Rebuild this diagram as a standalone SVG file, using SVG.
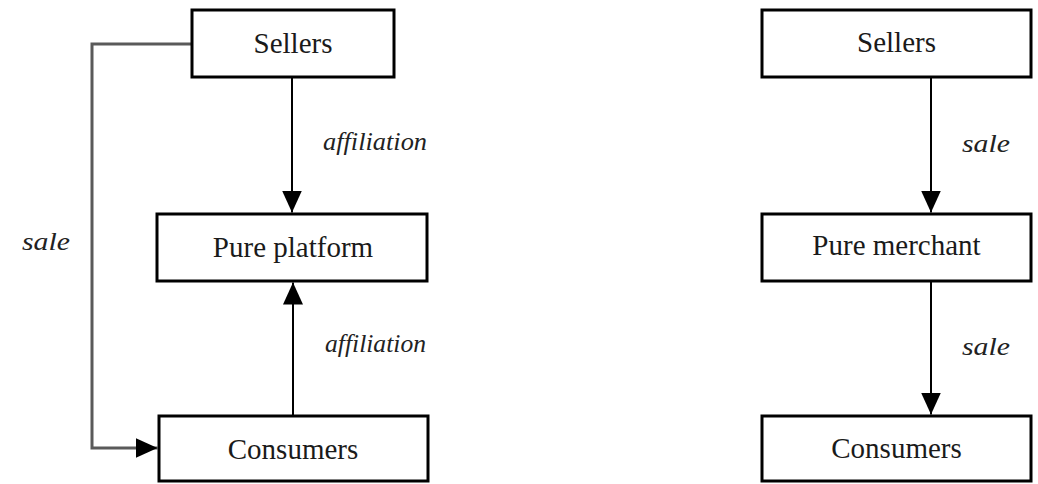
<svg xmlns="http://www.w3.org/2000/svg" width="1038" height="484" viewBox="0 0 1038 484">
  <style>
    .box { fill: #ffffff; stroke: #000000; stroke-width: 3; }
    .node-text { font-family: "Liberation Serif", "Times New Roman", serif; font-size: 29px; fill: #1a1a1a; text-anchor: middle; }
    .label { font-family: "Liberation Serif", "Times New Roman", serif; font-style: italic; font-size: 26px; fill: #222222; }
    .conn { fill: none; stroke: #000000; stroke-width: 2; }
    .conn-grey { fill: none; stroke: #5a5a5a; stroke-width: 3; }
  </style>
  <defs>
    <marker id="arrow" markerUnits="userSpaceOnUse" markerWidth="22" markerHeight="20" refX="22" refY="10" orient="auto">
      <path d="M0,0 L22,10 L0,20 Z" fill="#000000"/>
    </marker>
  </defs>
  <rect width="1038" height="484" fill="#ffffff"/>

  <g id="connectors">
    <line class="conn" x1="292" y1="77" x2="292" y2="212.5" marker-end="url(#arrow)"/>
    <line class="conn" x1="293" y1="415" x2="293" y2="282.5" marker-end="url(#arrow)"/>
    <path class="conn-grey" d="M191,44 H92 V448 H157.5" marker-end="url(#arrow)"/>
    <line class="conn" x1="931" y1="77" x2="931" y2="212.5" marker-end="url(#arrow)"/>
    <line class="conn" x1="931" y1="281" x2="931" y2="414.5" marker-end="url(#arrow)"/>
  </g>

  <g id="labels">
    <text class="label" x="323" y="150" textLength="104" lengthAdjust="spacingAndGlyphs">affiliation</text>
    <text class="label" x="325" y="352" textLength="101" lengthAdjust="spacingAndGlyphs">affiliation</text>
    <text class="label" x="22" y="250" textLength="48" lengthAdjust="spacingAndGlyphs">sale</text>
    <text class="label" x="962" y="152" textLength="48" lengthAdjust="spacingAndGlyphs">sale</text>
    <text class="label" x="962" y="355" textLength="48" lengthAdjust="spacingAndGlyphs">sale</text>
  </g>

  <g id="sellers-left">
    <rect class="box" x="192" y="10" width="202" height="67"/>
    <text class="node-text" x="293" y="53">Sellers</text>
  </g>
  <g id="pure-platform">
    <rect class="box" x="157" y="214" width="270" height="67"/>
    <text class="node-text" x="293" y="257">Pure platform</text>
  </g>
  <g id="consumers-left">
    <rect class="box" x="159" y="416" width="269" height="65"/>
    <text class="node-text" x="293" y="459">Consumers</text>
  </g>

  <g id="sellers-right">
    <rect class="box" x="762" y="10" width="269" height="67"/>
    <text class="node-text" x="896.5" y="52">Sellers</text>
  </g>
  <g id="pure-merchant">
    <rect class="box" x="762" y="214" width="269" height="67"/>
    <text class="node-text" x="896.5" y="255">Pure merchant</text>
  </g>
  <g id="consumers-right">
    <rect class="box" x="762" y="416" width="269" height="65"/>
    <text class="node-text" x="896.5" y="458">Consumers</text>
  </g>
</svg>
